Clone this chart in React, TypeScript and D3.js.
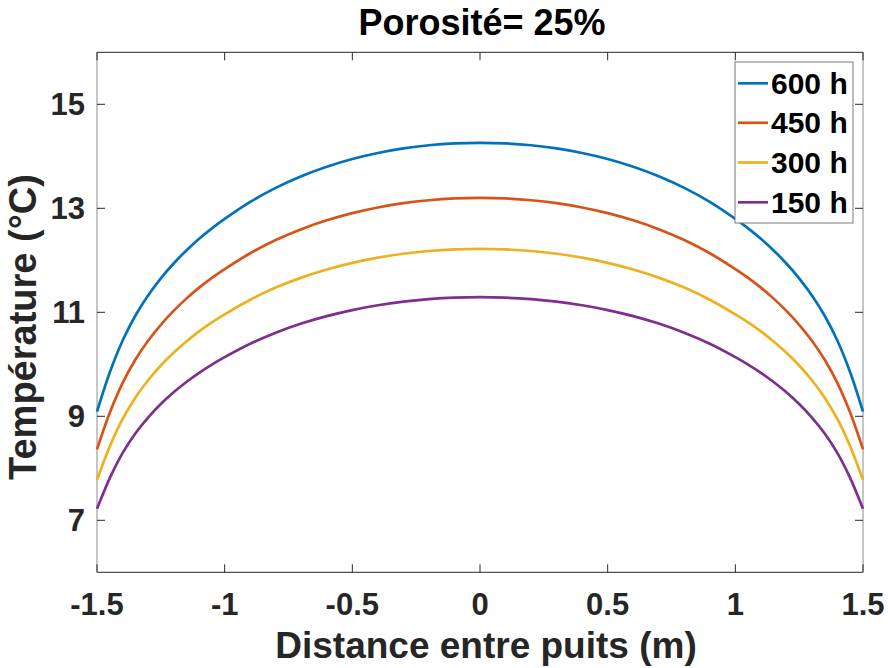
import React from "react";
import * as d3 from "d3";

const xs = [-1.5, -1.45, -1.4, -1.35, -1.3, -1.25, -1.2, -1.15, -1.1, -1.05, -1.0, -0.9, -0.8, -0.7, -0.6, -0.5, -0.4, -0.3, -0.2, -0.1, 0,
  0.1, 0.2, 0.3, 0.4, 0.5, 0.6, 0.7, 0.8, 0.9, 1.0, 1.05, 1.1, 1.15, 1.2, 1.25, 1.3, 1.35, 1.4, 1.45, 1.5];

const t600 = [9.09, 9.843, 10.453, 10.933, 11.323, 11.653, 11.938, 12.19, 12.415, 12.615, 12.795, 13.123, 13.393, 13.617, 13.799, 13.947, 14.063, 14.151, 14.212, 14.248, 14.26,
  14.248, 14.212, 14.151, 14.063, 13.947, 13.799, 13.617, 13.393, 13.123, 12.795, 12.615, 12.415, 12.19, 11.938, 11.653, 11.323, 10.933, 10.453, 9.843, 9.09];
const t450 = [8.365, 9.067, 9.638, 10.087, 10.452, 10.76, 11.027, 11.263, 11.474, 11.661, 11.83, 12.136, 12.389, 12.599, 12.769, 12.907, 13.016, 13.098, 13.155, 13.189, 13.2,
  13.189, 13.155, 13.098, 13.016, 12.907, 12.769, 12.599, 12.389, 12.136, 11.83, 11.661, 11.474, 11.263, 11.027, 10.76, 10.452, 10.087, 9.638, 9.067, 8.365];
const t300 = [7.775, 8.42, 8.945, 9.358, 9.693, 9.977, 10.222, 10.439, 10.633, 10.805, 10.96, 11.242, 11.475, 11.667, 11.823, 11.951, 12.051, 12.126, 12.179, 12.21, 12.22,
  12.21, 12.179, 12.126, 12.051, 11.951, 11.823, 11.667, 11.475, 11.242, 10.96, 10.805, 10.633, 10.439, 10.222, 9.977, 9.693, 9.358, 8.945, 8.42, 7.775];
const t150 = [7.22, 7.811, 8.291, 8.669, 8.976, 9.236, 9.461, 9.66, 9.837, 9.994, 10.137, 10.395, 10.607, 10.784, 10.927, 11.043, 11.135, 11.204, 11.252, 11.281, 11.29,
  11.281, 11.252, 11.204, 11.135, 11.043, 10.927, 10.784, 10.607, 10.395, 10.137, 9.994, 9.837, 9.66, 9.461, 9.236, 8.976, 8.669, 8.291, 7.811, 7.22];

const seriesNames = ["600 h", "450 h", "300 h", "150 h"];
const seriesValues = [t600, t450, t300, t150];
const colors = ["#0072BD", "#D95319", "#EDB120", "#7E2F8E"];

const xTicks = [-1.5, -1, -0.5, 0, 0.5, 1, 1.5];
const yTicks = [7, 9, 11, 13, 15];

const titleText = "Porosité= 25%";
const xLabel = "Distance entre puits (m)";
const yLabel = "Température (°C)";

const W = 888, H = 668;
const L = 97, R = 863, T = 52.3, B = 572.3;
const FONT = "'Liberation Sans', Arial, Helvetica, sans-serif";

export default function App() {
  const x = d3.scaleLinear().domain([-1.5, 1.5]).range([L, R]);
  const y = d3.scaleLinear().domain([6, 16]).range([B, T]);
  const line = d3.line<number>()
    .x((_, i) => x(xs[i]))
    .y((d) => y(d))
    .curve(d3.curveCatmullRom.alpha(0.5));

  const tickLen = 8;
  const legX = 735, legY = 62, legW = 118, legH = 161;
  const legRowY = [83.3, 122.8, 162.5, 202.3];

  return (
    <svg width={W} height={H} style={{ position: "absolute", left: 0, top: 0, background: "#fff" }}
      fontFamily={FONT}>
      <rect x={0} y={0} width={W} height={H} fill="#fff" />
      <line x1={L} x2={R} y1={T} y2={T} stroke="#262626" strokeWidth={1} />
      <line x1={L} x2={R} y1={B} y2={B} stroke="#262626" strokeWidth={1} />
      <line x1={L} x2={L} y1={T} y2={B} stroke="#8c8c8c" strokeWidth={1} />
      <line x1={R} x2={R} y1={T} y2={B} stroke="#8c8c8c" strokeWidth={1} />
      {xTicks.map((t) => (
        <g key={"xt" + t}>
          <line x1={x(t)} x2={x(t)} y1={B} y2={B - tickLen} stroke="#262626" />
          <line x1={x(t)} x2={x(t)} y1={T} y2={T + tickLen} stroke="#262626" />
          <text x={x(t)} y={615} textAnchor="middle" fontSize={31} fontWeight="bold" fill="#262626">{t}</text>
        </g>
      ))}
      {yTicks.map((t) => (
        <g key={"yt" + t}>
          <line x1={L} x2={L + tickLen} y1={y(t)} y2={y(t)} stroke="#262626" />
          <line x1={R} x2={R - tickLen} y1={y(t)} y2={y(t)} stroke="#262626" />
          <text x={85} y={y(t) + 11} textAnchor="end" fontSize={31} fontWeight="bold" fill="#262626">{t}</text>
        </g>
      ))}
      {seriesValues.map((vals, i) => (
        <path key={seriesNames[i]} d={line(vals) || ""} fill="none" stroke={colors[i]} strokeWidth={2.7} />
      ))}
      <rect x={legX} y={legY} width={legW} height={legH} fill="#fff" stroke="#7a7a7a" strokeWidth={1} />
      {seriesNames.map((n, i) => (
        <g key={"lg" + n}>
          <line x1={738} x2={768} y1={legRowY[i]} y2={legRowY[i]} stroke={colors[i]} strokeWidth={2.7} />
          <text x={771} y={legRowY[i] + 10.5} fontSize={30} fontWeight="bold" fill="#000">{n}</text>
        </g>
      ))}
      <text x={482} y={35} textAnchor="middle" fontSize={36} fontWeight="bold" fill="#000">{titleText}</text>
      <text x={486} y={658} textAnchor="middle" fontSize={37} fontWeight="bold" fill="#262626">{xLabel}</text>
      <text transform={`translate(36,327) rotate(-90)`} textAnchor="middle" fontSize={38} fontWeight="bold" fill="#262626">{yLabel}</text>
    </svg>
  );
}
